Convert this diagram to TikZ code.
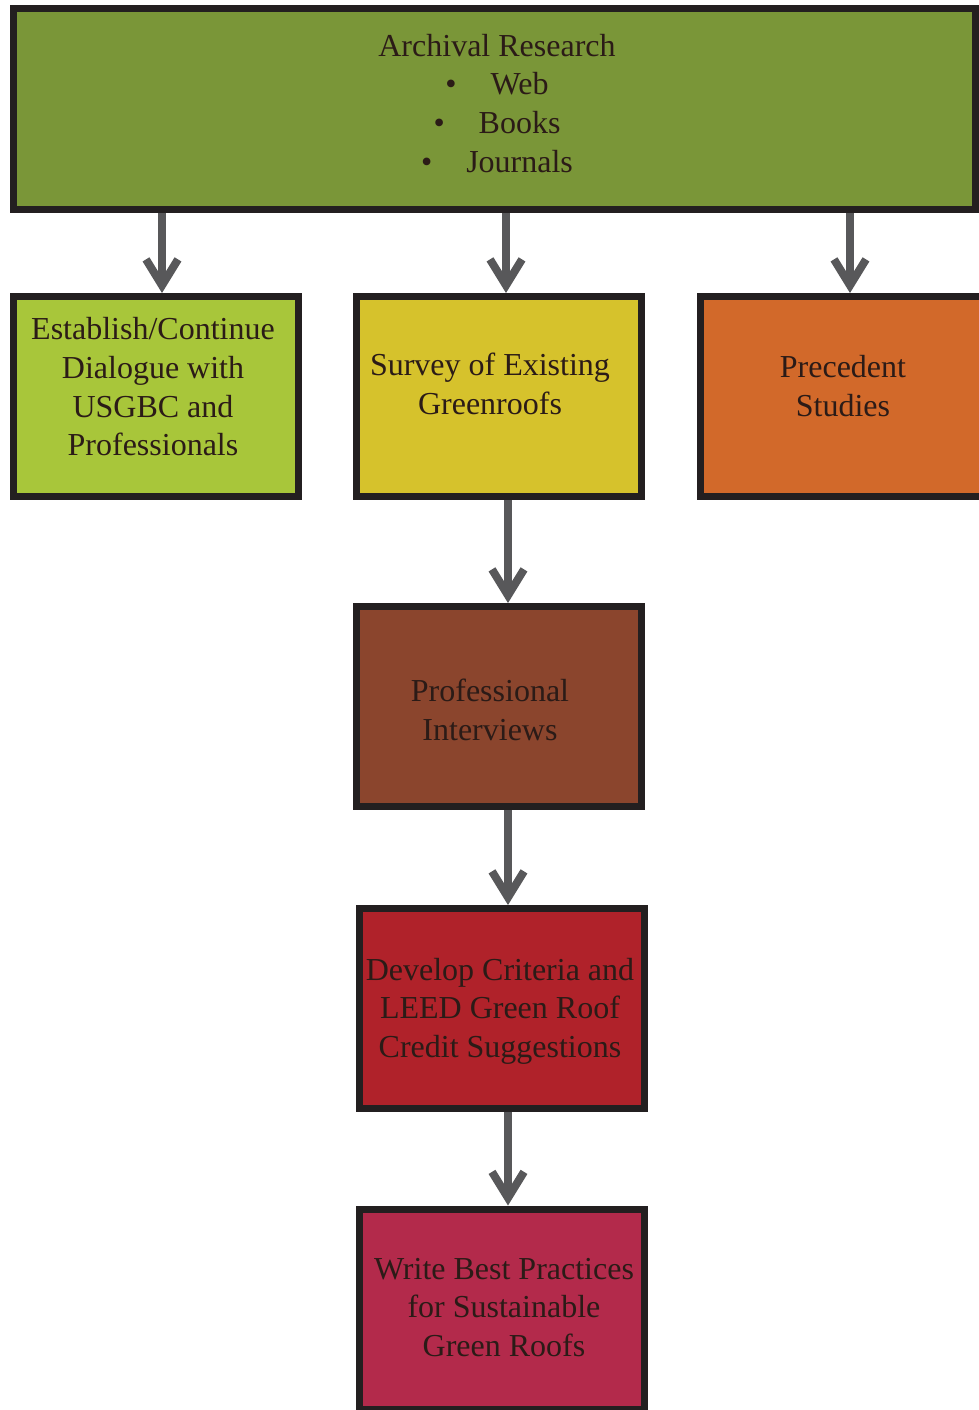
\documentclass[tikz,border=0pt]{standalone}
\usepackage{fontspec}
\setmainfont{Liberation Serif}
\usetikzlibrary{arrows.meta}
\definecolor{bordercol}{HTML}{231F20}
\definecolor{arrowcol}{HTML}{58585A}
\definecolor{textcol}{HTML}{2B1B17}
\definecolor{topgreen}{HTML}{7A9638}
\definecolor{limegreen}{HTML}{A8C63A}
\definecolor{mustard}{HTML}{D6C22C}
\definecolor{orangec}{HTML}{D2692A}
\definecolor{brownc}{HTML}{8B452D}
\definecolor{redc}{HTML}{B0222A}
\definecolor{crimsonc}{HTML}{B32A4B}
\newcommand{\boxtext}[3]{\kern#1\raisebox{#2}[\height][\depth]{\begin{tabular}{@{}c@{}}#3\end{tabular}}\kern-#1}
\begin{document}
\begin{tikzpicture}[x=0.5pt,y=-0.5pt,
  box/.style={draw=bordercol, line width=3.5pt, minimum width=142.5pt, minimum height=100pt,
    inner sep=0pt, text=textcol, font=\fontsize{16}{19.3}\selectfont},
  link/.style={draw=arrowcol, line width=4pt, -{Straight Barb[length=13pt,width=16pt]}}]
\clip (0,0) rectangle (979,1410);
\node[box, fill=topgreen, minimum width=481pt, minimum height=100.5pt] (top) at (494.5,109)
  {\boxtext{1.25pt}{1.25pt}{Archival Research\\ \textbullet\hspace{17pt}Web\\ \textbullet\hspace{17pt}Books\\ \textbullet\hspace{17pt}Journals}};
\node[box, fill=limegreen] (dialog) at (156,396.5)
  {\boxtext{-1.5pt}{3.25pt}{Establish/Continue\\ Dialogue with\\ USGBC and\\ Professionals}};
\node[box, fill=mustard] (survey) at (499,396.5)
  {\boxtext{-4.5pt}{4.75pt}{Survey of Existing\\ Greenroofs}};
\node[box, fill=orangec] (prec) at (843,396.5)
  {\boxtext{0pt}{3.75pt}{Precedent\\ Studies}};
\node[box, fill=brownc] (interv) at (499,706.5)
  {\boxtext{-4.5pt}{-3.25pt}{Professional\\ Interviews}};
\node[box, fill=redc] (crit) at (502,1008.5)
  {\boxtext{-1pt}{-1.25pt}{Develop Criteria and\\ LEED Green Roof\\ Credit Suggestions}};
\node[box, fill=crimsonc] (write) at (502,1309)
  {\boxtext{1pt}{-0.5pt}{Write Best Practices\\ for Sustainable\\ Green Roofs}};
\coordinate (xa) at (162,0);
\coordinate (xb) at (506,0);
\coordinate (xc) at (850,0);
\coordinate (xd) at (508,0);
\draw[link] (top.south -| xa) -- (dialog.north -| xa);
\draw[link] (top.south -| xb) -- (survey.north -| xb);
\draw[link] (top.south -| xc) -- (prec.north -| xc);
\draw[link] (survey.south -| xd) -- (interv.north -| xd);
\draw[link] (interv.south -| xd) -- (crit.north -| xd);
\draw[link] (crit.south -| xd) -- (write.north -| xd);
\end{tikzpicture}
\end{document}
